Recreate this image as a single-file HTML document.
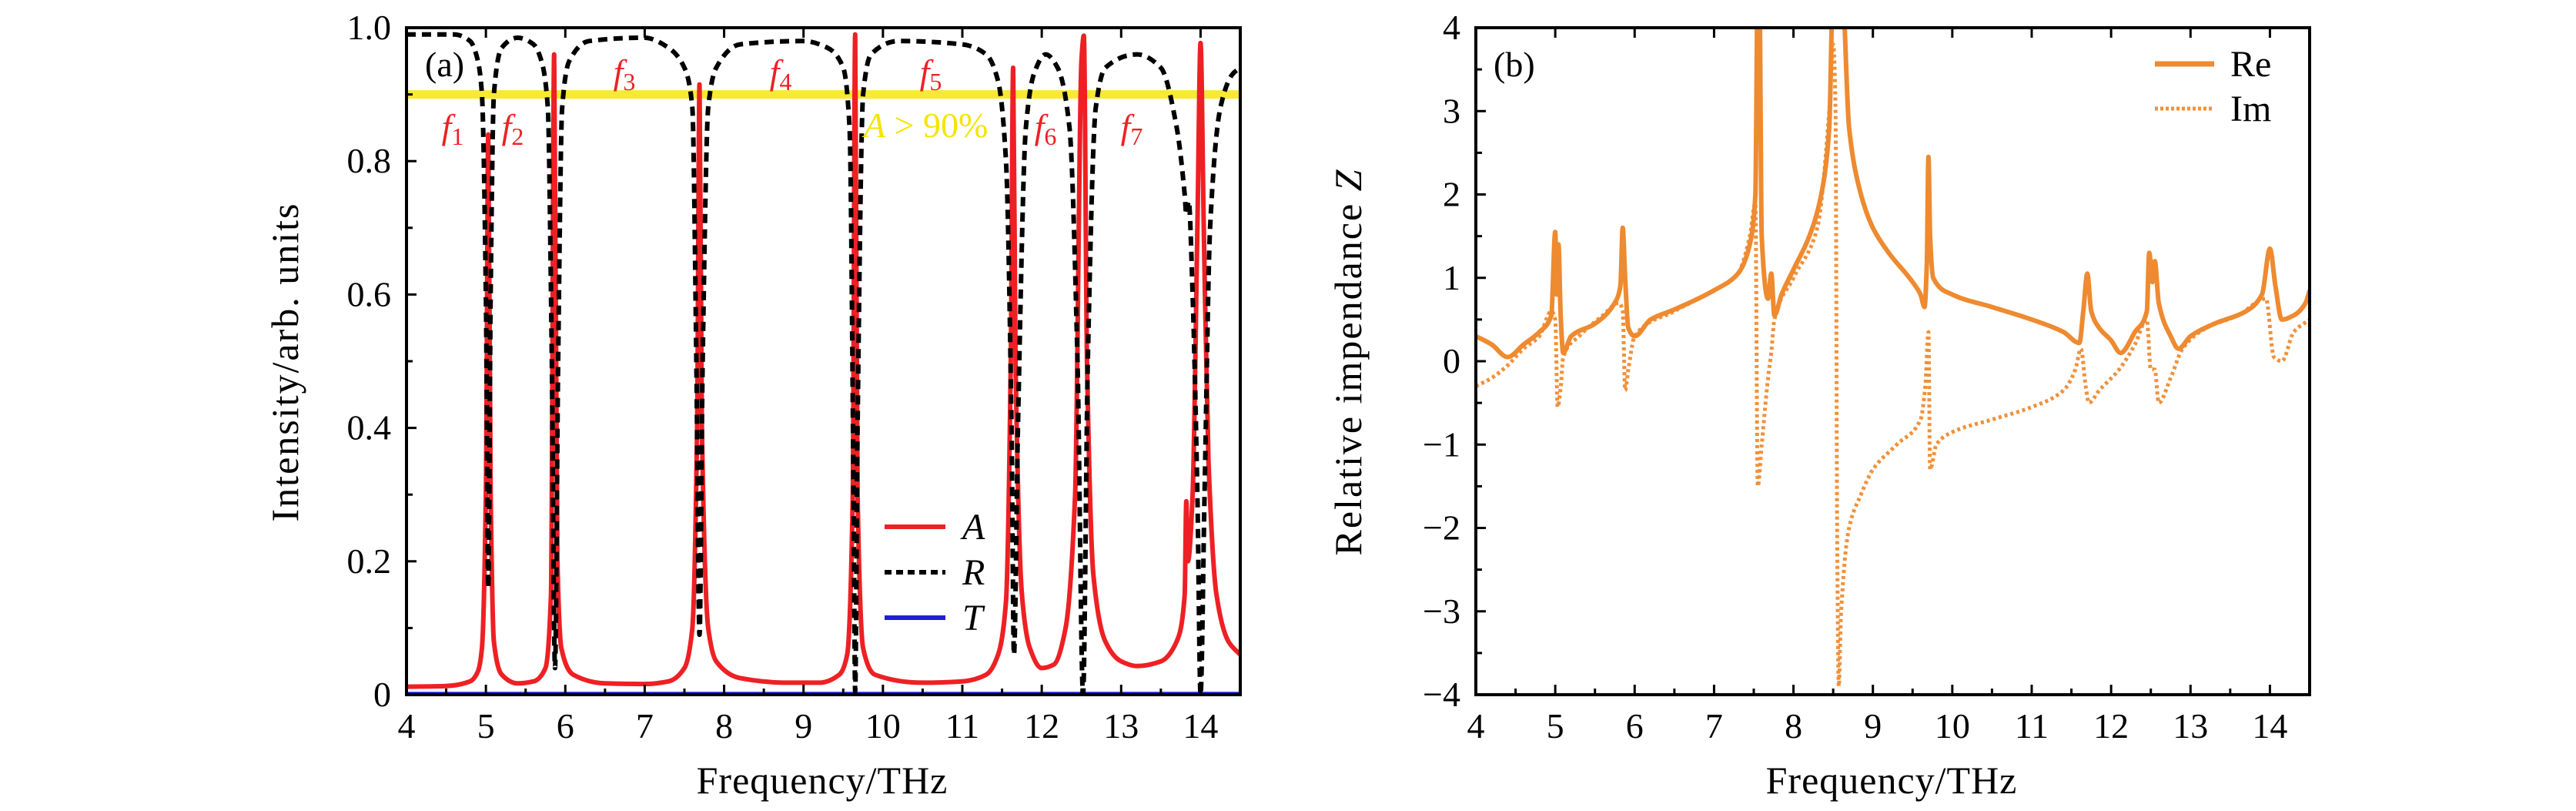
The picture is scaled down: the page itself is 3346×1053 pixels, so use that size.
<!DOCTYPE html>
<html><head><meta charset="utf-8">
<style>
html,body{margin:0;padding:0;background:#fff;}
svg{display:block;}
svg text{font-family:"Liberation Serif","DejaVu Serif",serif;fill:#000;}
</style></head>
<body>
<svg id="fig" width="3346" height="1053" viewBox="0 0 3346 1053" xmlns="http://www.w3.org/2000/svg" font-family="Liberation Serif, DejaVu Serif, serif">
<defs>
<clipPath id="clipA"><rect x="528" y="36" width="1083" height="866"/></clipPath>
<clipPath id="clipB"><rect x="1917" y="36" width="1083" height="866"/></clipPath>
</defs>
<g id="panelA"></g>
<g id="panelB"></g>
</svg>
<script>
// ---------- Panel (a) data ----------
const aFreq = [4.0,4.5,4.8,4.9,4.95,5.0,5.03,5.06,5.1,5.2,5.4,5.6,5.75,5.82,5.86,5.9,5.95,6.1,6.5,7.0,7.3,7.5,7.6,7.66,7.69,7.72,7.8,7.9,8.2,8.8,9.2,9.45,9.55,9.62,9.65,9.68,9.75,9.9,10.5,11.0,11.3,11.45,11.55,11.61,11.64,11.67,11.75,11.85,12.0,12.15,12.3,12.42,12.5,12.53,12.57,12.65,12.8,13.0,13.2,13.5,13.7,13.8,13.82,13.84,13.9,13.96,14.0,14.04,14.1,14.2,14.35,14.5];
const aVals = [0.012,0.013,0.02,0.035,0.07,0.3,0.84,0.3,0.08,0.03,0.017,0.02,0.04,0.15,0.96,0.2,0.07,0.03,0.017,0.016,0.02,0.04,0.1,0.4,0.915,0.4,0.1,0.05,0.025,0.018,0.018,0.03,0.06,0.3,0.99,0.3,0.07,0.03,0.018,0.02,0.03,0.06,0.14,0.5,0.94,0.5,0.15,0.07,0.04,0.045,0.1,0.3,0.95,0.988,0.5,0.18,0.08,0.05,0.043,0.05,0.08,0.15,0.29,0.2,0.3,0.7,0.977,0.7,0.35,0.15,0.08,0.06];
const rFreq = [4.0,4.6,4.8,4.9,4.95,5.0,5.03,5.06,5.1,5.2,5.4,5.6,5.7,5.78,5.83,5.87,5.91,5.96,6.05,6.3,7.0,7.3,7.5,7.6,7.65,7.69,7.73,7.8,7.9,8.2,9.0,9.3,9.5,9.58,9.63,9.65,9.68,9.75,9.85,10.2,11.0,11.3,11.45,11.55,11.62,11.65,11.7,11.8,11.9,12.05,12.2,12.35,12.45,12.52,12.58,12.68,12.8,13.2,13.5,13.7,13.8,13.82,13.85,13.9,13.96,14.0,14.05,14.12,14.25,14.4,14.5];
const rVals = [0.99,0.99,0.98,0.95,0.9,0.6,0.16,0.6,0.9,0.97,0.985,0.975,0.95,0.88,0.5,0.04,0.5,0.88,0.95,0.98,0.985,0.97,0.94,0.88,0.5,0.09,0.5,0.88,0.94,0.975,0.98,0.97,0.94,0.85,0.3,0.005,0.4,0.9,0.96,0.98,0.975,0.96,0.92,0.8,0.4,0.06,0.4,0.85,0.93,0.96,0.94,0.85,0.5,0.0,0.5,0.88,0.94,0.96,0.94,0.85,0.75,0.72,0.74,0.6,0.3,0.0,0.3,0.7,0.88,0.93,0.94];
const tFreq = [4.0,14.5];
const tVals = [0.002,0.002];
const aXTicks = [4,5,6,7,8,9,10,11,12,13,14];
const aYTicks = [0,0.2,0.4,0.6,0.8,1.0];
const aYTickLabels = ["0","0.2","0.4","0.6","0.8","1.0"];
const threshold = [0.9];

// ---------- Panel (b) data ----------
const reFreq = [4.0,4.2,4.4,4.6,4.8,4.95,5.0,5.02,5.04,5.07,5.1,5.2,5.5,5.75,5.82,5.85,5.88,5.92,6.0,6.2,6.5,7.0,7.3,7.45,7.52,7.55,7.57,7.6,7.68,7.72,7.76,7.85,8.0,8.2,8.35,8.45,8.5,8.53,8.56,8.61,8.7,8.85,9.0,9.2,9.5,9.6,9.65,9.68,9.7,9.72,9.76,10.0,10.5,11.0,11.4,11.6,11.65,11.7,11.75,11.85,12.0,12.12,12.3,12.45,12.48,12.52,12.55,12.6,12.75,12.85,13.0,13.3,13.7,13.9,14.0,14.07,14.15,14.3,14.45,14.5];
const reVals = [0.3,0.2,0.05,0.2,0.35,0.55,1.55,0.8,1.4,0.5,0.1,0.3,0.45,0.7,0.9,1.6,1.0,0.4,0.3,0.5,0.62,0.85,1.05,1.4,2.0,4.5,4.5,1.5,0.75,1.05,0.55,0.8,1.1,1.5,2.0,2.8,4.5,4.5,4.5,4.5,2.8,2.0,1.6,1.3,0.95,0.8,0.65,1.2,2.45,1.5,1.0,0.8,0.65,0.5,0.35,0.22,0.6,1.05,0.6,0.4,0.25,0.1,0.35,0.6,1.3,0.95,1.2,0.7,0.3,0.15,0.3,0.45,0.6,0.8,1.35,0.9,0.5,0.55,0.7,0.85];
const imFreq = [4.0,4.2,4.4,4.6,4.8,4.95,5.0,5.03,5.07,5.1,5.3,5.6,5.8,5.85,5.88,5.92,6.0,6.5,7.0,7.3,7.45,7.52,7.55,7.6,7.68,7.72,7.76,8.0,8.3,8.45,8.5,8.53,8.55,8.57,8.6,8.7,8.85,9.0,9.3,9.6,9.66,9.7,9.72,9.8,10.0,10.5,11.0,11.4,11.55,11.62,11.68,11.72,11.85,12.1,12.3,12.45,12.5,12.55,12.6,12.75,12.9,13.2,13.6,13.95,14.05,14.15,14.3,14.5];
const imVals = [-0.3,-0.2,-0.05,0.15,0.3,0.6,0.5,-0.55,-0.3,0.05,0.3,0.55,0.7,0.6,-0.35,-0.1,0.3,0.6,0.85,1.05,1.5,1.9,-1.5,-1.0,-0.2,0.1,0.5,1.0,1.6,3.0,3.8,3.0,-2.0,-3.9,-3.0,-2.0,-1.6,-1.3,-1.0,-0.7,-0.3,0.35,-1.3,-1.0,-0.85,-0.7,-0.55,-0.35,-0.1,0.15,-0.3,-0.5,-0.35,-0.1,0.2,0.5,-0.1,-0.1,-0.5,-0.2,0.15,0.4,0.55,0.75,0.05,0.0,0.35,0.5];
const bXTicks = [4,5,6,7,8,9,10,11,12,13,14];
const bYTicks = [-4,-3,-2,-1,0,1,2,3,4];
const bYTickLabels = ["\u22124","\u22123","\u22122","\u22121","0","1","2","3","4"];

const NS = "http://www.w3.org/2000/svg";
function mk(tag, attrs, parent){
  const e = document.createElementNS(NS, tag);
  for (const k in attrs) e.setAttribute(k, attrs[k]);
  parent.appendChild(e);
  return e;
}
const L = 1083, H = 866, TOP = 36, BOT = 902;
function axisX(x0){ return v => x0 + (v - 4) / 10.5 * L; }
const yA = v => BOT - v * H;
const yB = v => BOT - (v + 4) / 8 * H;

// monotone cubic (no overshoot) path through data points
function pathD(xs, ys, fx, fy){
  const px = xs.map(fx), py = ys.map(fy), n = px.length;
  if (n < 3) return px.map((v,i)=>(i?"L":"M")+v.toFixed(1)+" "+py[i].toFixed(1)).join(" ");
  const d = [], m = new Array(n);
  for (let i=0;i<n-1;i++) d.push((py[i+1]-py[i])/(px[i+1]-px[i]));
  m[0]=d[0]; m[n-1]=d[n-2];
  for (let i=1;i<n-1;i++){
    if (d[i-1]*d[i] <= 0) m[i]=0;
    else { const w1=2*(px[i+1]-px[i])+(px[i]-px[i-1]), w2=(px[i+1]-px[i])+2*(px[i]-px[i-1]); m[i]=(w1+w2)/(w1/d[i-1]+w2/d[i]); }
  }
  let s = "M"+px[0].toFixed(1)+" "+py[0].toFixed(1);
  for (let i=0;i<n-1;i++){
    const h = (px[i+1]-px[i])/3;
    s += " C"+(px[i]+h).toFixed(1)+" "+(py[i]+m[i]*h).toFixed(1)+" "+(px[i+1]-h).toFixed(1)+" "+(py[i+1]-m[i+1]*h).toFixed(1)+" "+px[i+1].toFixed(1)+" "+py[i+1].toFixed(1);
  }
  return s;
}

function frameAndTicks(g, x0, fx, fy, xTicks, yTicks, yLabels, yMinorStep, yMin, yMax){
  xTicks.forEach(t => {
    const tk = mk("line", {x1:fx(t), x2:fx(t), y1:BOT, y2:BOT-13, stroke:"#000","stroke-width":3}, g);
    
    
    const tt = mk("line", {x1:fx(t), x2:fx(t), y1:TOP, y2:TOP+13, stroke:"#000","stroke-width":3}, g);
    
    
    const lb = mk("text", {x:fx(t), y:BOT+56, "font-size":46, "text-anchor":"middle"}, g);
    lb.textContent = String(t);
    
    
  });
  for (let t = 4.5; t < 14.5; t += 1){
    const m = mk("line", {x1:fx(t), x2:fx(t), y1:BOT, y2:BOT-8, stroke:"#000","stroke-width":3}, g);
    
    
  }
  yTicks.forEach((t,i) => {
    const tk = mk("line", {x1:x0, x2:x0+13, y1:fy(t), y2:fy(t), stroke:"#000","stroke-width":3}, g);
    
    
    const lb = mk("text", {x:x0-20, y:fy(t)+15, "font-size":46, "text-anchor":"end"}, g);
    lb.textContent = yLabels[i];
    
    
  });
  for (let t = yMin + yMinorStep; t < yMax; t += 2*yMinorStep){
    const m = mk("line", {x1:x0, x2:x0+8, y1:fy(t), y2:fy(t), stroke:"#000","stroke-width":3}, g);
    
    
  }
  const fr = mk("rect", {x:x0, y:TOP, width:L, height:H, fill:"none", stroke:"#000", "stroke-width":4}, g);
  
  
}

// ---------- Panel (a) ----------
(function(){
  const g = document.getElementById("panelA");
  const x0 = 528, fx = axisX(x0);
  const pg = mk("g", {"clip-path":"url(#clipA)"}, g);
  
  
  const yl = mk("line", {x1:x0, x2:x0+L, y1:yA(threshold[0]), y2:yA(threshold[0]), stroke:"#f8e71c", "stroke-width":11, opacity:0.9}, pg);
  
  
  const tl = mk("path", {d:pathD(tFreq,tVals,fx,yA), fill:"none", stroke:"#2020d0", "stroke-width":4}, pg);
  
  
  const al = mk("path", {d:pathD(aFreq,aVals,fx,yA), fill:"none", stroke:"#ee2024", "stroke-width":6, "stroke-linejoin":"round"}, pg);
  
  
  const rl = mk("path", {d:pathD(rFreq,rVals,fx,yA), fill:"none", stroke:"#000", "stroke-width":6, "stroke-dasharray":"12 8"}, pg);
  
  
  frameAndTicks(g, x0, fx, yA, aXTicks, aYTicks, aYTickLabels, 0.1, 0, 1);
  const lbls = [["f","1",588,165],["f","2",666,165],["f","3",811,94],["f","4",1014,94],["f","5",1209,94],["f","6",1358,165],["f","7",1470,165]];
  lbls.forEach(l => {
    const t = mk("text", {x:l[2], y:l[3]+15, "font-size":46, "text-anchor":"middle", style:"fill:#ee2024"}, g);
    t.innerHTML = '<tspan font-style="italic">'+l[0]+'</tspan><tspan font-size="32" dy="8">'+l[1]+'</tspan>';
    
    
  });
  const th = mk("text", {x:1122, y:178, "font-size":46, style:"fill:#f5e400"}, g);
  th.innerHTML = '<tspan font-style="italic">A</tspan> &gt; 90%';
  
  
  const pa = mk("text", {x:552, y:99, "font-size":46}, g);
  pa.textContent = "(a)";
  
  
  const leg = [["A","#ee2024",null,684],["R","#000","12 8",743],["T","#2020d0",null,802]];
  leg.forEach(l => {
    const ln = mk("line", {x1:1149, x2:1228, y1:l[3], y2:l[3], stroke:l[1], "stroke-width":6}, g);
    if (l[2]) ln.setAttribute("stroke-dasharray", "9 6");
    
    
    const tx = mk("text", {x:1250, y:l[3]+16, "font-size":48, "font-style":"italic"}, g);
    tx.textContent = l[0];
    
    
  });
  const xt = mk("text", {x:1068, y:1030, "font-size":50, "text-anchor":"middle", "letter-spacing":"1"}, g);
  xt.textContent = "Frequency/THz";
  
  
  const yt = mk("text", {x:0, y:0, "font-size":50, "text-anchor":"middle", "letter-spacing":"2", transform:"translate(387,470) rotate(-90)"}, g);
  yt.textContent = "Intensity/arb. units";
  
  
})();

// ---------- Panel (b) ----------
(function(){
  const g = document.getElementById("panelB");
  const x0 = 1917, fx = axisX(x0);
  const pg = mk("g", {"clip-path":"url(#clipB)"}, g);
  
  
  const iml = mk("path", {d:pathD(imFreq,imVals,fx,yB), fill:"none", stroke:"#f0913a", "stroke-width":5, "stroke-dasharray":"4 4"}, pg);
  
  
  const rel = mk("path", {d:pathD(reFreq,reVals,fx,yB), fill:"none", stroke:"#ee8a30", "stroke-width":6, "stroke-linejoin":"round"}, pg);
  
  
  frameAndTicks(g, x0, fx, yB, bXTicks, bYTicks, bYTickLabels, 0.5, -4, 4);
  const pb = mk("text", {x:1940, y:99, "font-size":46}, g);
  pb.textContent = "(b)";
  
  
  const l1 = mk("line", {x1:2799, x2:2876, y1:83, y2:83, stroke:"#ee8a30", "stroke-width":7}, g);
  
  
  const t1 = mk("text", {x:2897, y:99, "font-size":48}, g);
  t1.textContent = "Re";
  
  
  const l2 = mk("line", {x1:2799, x2:2876, y1:141, y2:141, stroke:"#f0913a", "stroke-width":5, "stroke-dasharray":"4 3"}, g);
  
  
  const t2 = mk("text", {x:2897, y:157, "font-size":48}, g);
  t2.textContent = "Im";
  
  
  const xt = mk("text", {x:2457, y:1030, "font-size":50, "text-anchor":"middle", "letter-spacing":"1"}, g);
  xt.textContent = "Frequency/THz";
  
  
  const yt = mk("text", {x:0, y:0, "font-size":50, "text-anchor":"middle", "letter-spacing":"2", transform:"translate(1768,470) rotate(-90)"}, g);
  yt.innerHTML = 'Relative impendance <tspan font-style="italic">Z</tspan>';
  
  
})();
</script>
</body></html>
